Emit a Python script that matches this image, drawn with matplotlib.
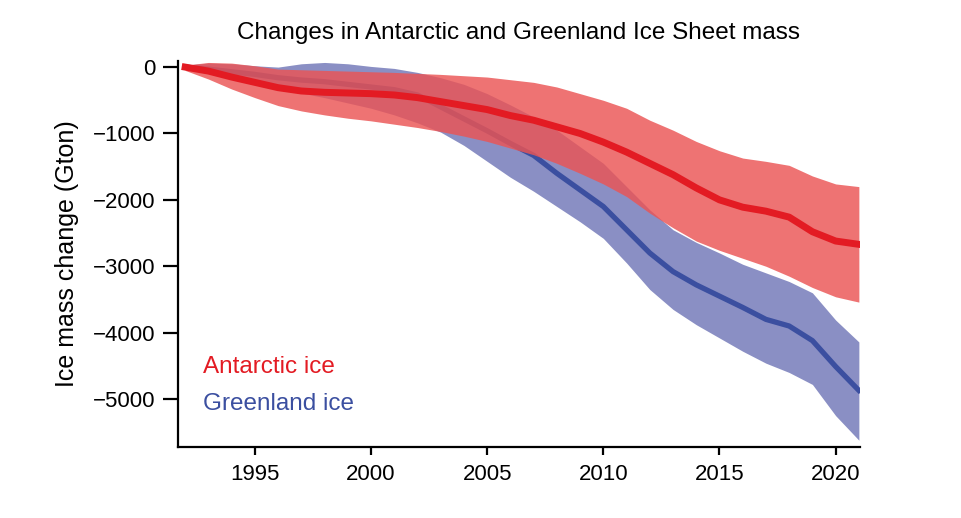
import matplotlib
matplotlib.use('Agg')
import matplotlib.pyplot as plt
import numpy as np

plt.rcParams['font.family'] = ['Liberation Sans', 'DejaVu Sans']

years = np.arange(1992, 2022)

# Antarctic ice sheet mass change (Gton): mean and uncertainty band
ant_mean = [0, -60, -150, -230, -310, -360, -380, -390, -400, -420,
            -460, -520, -580, -640, -730, -800, -900, -1000, -1130, -1280,
            -1450, -1620, -1820, -2000, -2110, -2170, -2260, -2480, -2620, -2670]
ant_upper = [30, 70, 60, 20, -30, -40, -50, -60, -70, -80,
             -95, -110, -130, -150, -190, -230, -300, -400, -500, -620,
             -800, -950, -1120, -1260, -1370, -1420, -1480, -1640, -1760, -1800]
ant_lower = [-50, -180, -330, -460, -580, -660, -720, -770, -810, -860,
             -910, -970, -1040, -1120, -1220, -1320, -1450, -1600, -1760, -1950,
             -2200, -2420, -2620, -2760, -2880, -3000, -3150, -3320, -3460, -3540]

# Greenland ice sheet mass change (Gton)
grl_mean = [0, -30, -70, -110, -160, -195, -220, -260, -300, -340,
            -420, -600, -780, -960, -1150, -1330, -1600, -1850, -2100, -2450,
            -2800, -3080, -3280, -3450, -3620, -3800, -3900, -4120, -4510, -4870]
grl_upper = [30, 60, 50, 20, 0, 50, 70, 50, 10, -20,
             -80, -160, -260, -400, -570, -750, -950, -1200, -1450, -1800,
             -2150, -2450, -2640, -2800, -2970, -3100, -3230, -3400, -3810, -4140]
grl_lower = [-30, -90, -160, -240, -320, -390, -460, -540, -620, -720,
             -840, -980, -1180, -1420, -1660, -1870, -2100, -2330, -2580, -2950,
             -3350, -3650, -3880, -4080, -4280, -4460, -4600, -4780, -5250, -5620]

xticks = [1995, 2000, 2005, 2010, 2015, 2020]
yticks = [0, -1000, -2000, -3000, -4000, -5000]

fig = plt.figure(figsize=(9.62, 5.18), dpi=100)
ax = fig.add_axes([0.185, 0.137, 0.709, 0.745])

# blue band and line sit under the translucent red band
ax.fill_between(years, grl_lower, grl_upper, color='#8a8fc4', lw=0, zorder=1)
ax.plot(years, grl_mean, color='#3b4fa0', lw=3.8, solid_joinstyle='round', zorder=2)
ax.fill_between(years, ant_lower, ant_upper, color='#eb5454', alpha=0.82, lw=0, zorder=3)
ax.plot(years, ant_mean, color='#e31b23', lw=5, solid_joinstyle='round', zorder=4)

ax.set_xlim(1991.69, 2021.05)
ax.set_ylim(-5723, 90)
ax.set_xticks(xticks)
ax.set_yticks(yticks)

for s in ['top', 'right']:
    ax.spines[s].set_visible(False)
for s in ['left', 'bottom']:
    ax.spines[s].set_linewidth(1.6)

ax.tick_params(axis='y', length=11, width=1.6, labelsize=16, pad=5)
ax.tick_params(axis='x', length=6, width=1.6, labelsize=16, pad=6)

ax.set_ylabel('Ice mass change (Gton)', fontsize=18, labelpad=10)
ax.set_title('Changes in Antarctic and Greenland Ice Sheet mass', fontsize=17.5, pad=16)

ax.text(0.037, 0.207, 'Antarctic ice', color='#e31b23', fontsize=17.5,
        transform=ax.transAxes, va='center', ha='left')
ax.text(0.037, 0.111, 'Greenland ice', color='#3b4fa0', fontsize=17.5,
        transform=ax.transAxes, va='center', ha='left')

plt.savefig('out.png', dpi=100)
